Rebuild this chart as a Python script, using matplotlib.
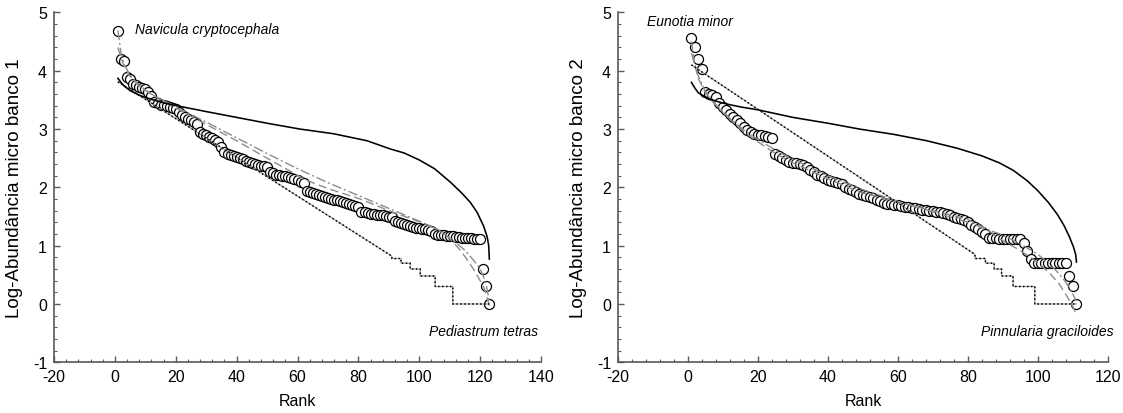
import matplotlib.pyplot as plt
from matplotlib.ticker import MultipleLocator

plt.rcParams["font.family"] = ["Liberation Sans", "DejaVu Sans"]
plt.rcParams["axes.unicode_minus"] = False

# banco 1: observed log-abundance by rank
abund1 = [4.69, 4.21, 4.16, 3.89, 3.86, 3.78, 3.75, 3.73, 3.71, 3.69,
          3.63, 3.57, 3.46, 3.44, 3.42, 3.41, 3.40, 3.38, 3.36, 3.34,
          3.29, 3.24, 3.21, 3.18, 3.15, 3.12, 3.09, 2.95, 2.92, 2.89,
          2.86, 2.84, 2.81, 2.78, 2.70, 2.61, 2.58, 2.56, 2.54, 2.52,
          2.50, 2.48, 2.46, 2.44, 2.42, 2.40, 2.38, 2.37, 2.36, 2.35,
          2.26, 2.24, 2.22, 2.21, 2.20, 2.19, 2.18, 2.16, 2.14, 2.12,
          2.10, 2.07, 1.94, 1.92, 1.90, 1.89, 1.87, 1.85, 1.84, 1.82,
          1.80, 1.79, 1.78, 1.76, 1.75, 1.73, 1.72, 1.70, 1.68, 1.66,
          1.58, 1.57, 1.56, 1.55, 1.54, 1.53, 1.53, 1.52, 1.51, 1.50,
          1.49, 1.42, 1.40, 1.39, 1.37, 1.36, 1.34, 1.32, 1.31, 1.30,
          1.29, 1.28, 1.27, 1.25, 1.20, 1.19, 1.18, 1.18, 1.17, 1.16,
          1.16, 1.15, 1.15, 1.14, 1.14, 1.13, 1.13, 1.12, 1.11, 1.11,
          0.60, 0.30, 0.00]
rank1 = list(range(1, len(abund1) + 1))

# banco 1: fitted models
stick1_rank = [1, 2, 3, 5, 8, 12, 16, 20.3, 30, 40, 50, 60.8, 71.8, 82.8, 90.4,
               95, 100, 105, 110.2, 114, 116.8, 119, 121.1, 122.3, 122.8, 123]
stick1_val = [3.87, 3.80, 3.74, 3.66, 3.58, 3.51, 3.45, 3.40, 3.30, 3.20, 3.10,
              3.00, 2.92, 2.80, 2.66, 2.59, 2.47, 2.32, 2.09, 1.90, 1.74, 1.57,
              1.34, 1.15, 1.00, 0.77]
geo1_rank = [1, 91, 91, 94, 94, 97, 97, 100.3, 100.3, 105.2, 105.2, 111, 111, 123]
geo1_val = [3.81, 0.82, 0.78, 0.78, 0.70, 0.70, 0.60, 0.60, 0.48, 0.48, 0.30, 0.30, 0.00, 0.00]
lnorm1_rank = [1, 2, 3, 5, 8, 12, 20, 30, 40, 50, 63, 70, 80.6, 91.5, 100, 105.8,
               110, 113, 115.6, 118, 120, 121.5, 123]
lnorm1_val = [4.40, 4.22, 4.08, 3.90, 3.74, 3.59, 3.36, 3.08, 2.80, 2.50, 2.12, 1.98,
              1.80, 1.57, 1.41, 1.29, 1.12, 0.95, 0.77, 0.58, 0.40, 0.25, -0.03]
lser1_rank = [1, 2, 3, 5, 8, 12, 20, 30, 40, 50, 60, 70, 80, 90, 100, 105, 110,
              115, 118, 120, 121, 122, 123]
lser1_val = [4.69, 4.30, 4.12, 3.92, 3.75, 3.60, 3.38, 3.12, 2.85, 2.58, 2.32, 2.08,
             1.86, 1.64, 1.42, 1.30, 1.14, 0.92, 0.74, 0.60, 0.48, 0.32, 0.05]

# banco 2: observed log-abundance by rank
abund2 = [4.57, 4.40, 4.20, 4.03, 3.63, 3.60, 3.58, 3.55, 3.45, 3.38,
          3.32, 3.26, 3.21, 3.15, 3.10, 3.04, 2.98, 2.95, 2.92, 2.90,
          2.89, 2.88, 2.86, 2.84, 2.57, 2.54, 2.50, 2.47, 2.44, 2.42,
          2.41, 2.40, 2.38, 2.35, 2.29, 2.26, 2.22, 2.19, 2.16, 2.13,
          2.11, 2.09, 2.07, 2.05, 2.01, 1.98, 1.95, 1.92, 1.89, 1.87,
          1.85, 1.83, 1.81, 1.79, 1.76, 1.74, 1.72, 1.71, 1.70, 1.69,
          1.68, 1.67, 1.66, 1.65, 1.64, 1.63, 1.62, 1.61, 1.60, 1.59,
          1.58, 1.57, 1.56, 1.54, 1.52, 1.50, 1.48, 1.46, 1.44, 1.40,
          1.36, 1.32, 1.28, 1.24, 1.20, 1.14, 1.13, 1.13, 1.12, 1.12,
          1.12, 1.11, 1.11, 1.11, 1.11, 1.05, 0.91, 0.77, 0.70, 0.70,
          0.70, 0.70, 0.70, 0.70, 0.70, 0.70, 0.70, 0.70, 0.48, 0.30,
          0.00]
rank2 = list(range(1, len(abund2) + 1))

# banco 2: fitted models
stick2_rank = [1, 2, 3, 4.4, 6, 8, 11, 15, 20, 30, 40, 49, 58.7, 68.2, 77, 84,
               89, 93, 97, 100, 103, 105.5, 107.5, 109, 110.2, 110.8, 111]
stick2_val = [3.80, 3.70, 3.62, 3.57, 3.52, 3.48, 3.43, 3.38, 3.33, 3.20, 3.10, 3.00,
              2.91, 2.80, 2.67, 2.54, 2.42, 2.29, 2.11, 1.94, 1.74, 1.54, 1.34, 1.15,
              0.97, 0.84, 0.72]
geo2_rank = [1, 82, 82, 85, 85, 87.5, 87.5, 89.6, 89.6, 92.9, 92.9, 99.1, 99.1, 111]
geo2_val = [4.10, 0.85, 0.78, 0.78, 0.70, 0.70, 0.60, 0.60, 0.48, 0.48, 0.30, 0.30, 0.00, 0.00]
lnorm2_rank = [1, 2, 3, 5, 8, 12, 16, 20, 25, 30, 40, 49, 60.6, 70, 79.6, 85, 89, 94,
               98.7, 103, 106, 108.2, 110, 111.1]
lnorm2_val = [4.50, 4.09, 3.86, 3.62, 3.40, 3.17, 2.95, 2.78, 2.58, 2.42, 2.15, 1.92,
              1.74, 1.60, 1.46, 1.30, 1.12, 0.95, 0.77, 0.55, 0.35, 0.14, -0.05, -0.20]
lser2_rank = [1, 3, 5, 8, 12, 16, 20, 25, 30, 40, 50, 60, 70, 80, 90, 95, 100, 104,
              107, 109, 111]
lser2_val = [4.30, 3.90, 3.65, 3.42, 3.18, 2.98, 2.82, 2.64, 2.48, 2.20, 1.96, 1.76,
             1.58, 1.40, 1.18, 1.03, 0.85, 0.65, 0.45, 0.28, 0.05]


def draw_panel(ax, rank, abund, stick, geo, lnorm, lser, xmax, ylabel, top_name, top_xy,
               bottom_name, bottom_x):
    ax.plot(rank, abund, "o", ms=7.2, mfc="white", mec="black", mew=0.9, zorder=2)
    ax.plot(lnorm[0], lnorm[1], color="0.55", lw=1.0, ls=(0, (6, 3)), zorder=3)
    ax.plot(lser[0], lser[1], color="0.55", lw=1.0, ls=(0, (7, 2, 1.5, 2)), zorder=3)
    ax.plot(geo[0], geo[1], color="0.6", lw=0.8, zorder=3)
    ax.plot(geo[0], geo[1], color="black", lw=1.1, ls=(0, (1, 1.6)), zorder=3)
    ax.plot(stick[0], stick[1], color="black", lw=1.15, zorder=4)

    ax.text(top_xy[0], top_xy[1], top_name, style="italic", fontsize=10,
            va="center", ha="left")
    ax.text(bottom_x, -0.46, bottom_name, style="italic", fontsize=10, va="center",
            ha="right", clip_on=False)

    ax.set_xlim(-20, xmax)
    ax.set_ylim(-1, 5)
    ax.xaxis.set_major_locator(MultipleLocator(20))
    ax.xaxis.set_minor_locator(MultipleLocator(4))
    ax.yaxis.set_major_locator(MultipleLocator(1))
    ax.yaxis.set_minor_locator(MultipleLocator(0.2))
    for side in ("top", "right"):
        ax.spines[side].set_visible(False)
    for side in ("left", "bottom"):
        ax.spines[side].set_color("0.35")
        ax.spines[side].set_linewidth(1.2)
    ax.tick_params(which="both", direction="in", color="0.35", labelsize=11.5)
    ax.tick_params(which="major", length=4, width=1.0, pad=5)
    ax.tick_params(which="minor", length=2, width=0.8)
    ax.set_xlabel("Rank", fontsize=11.5, labelpad=6)
    ax.set_ylabel(ylabel, fontsize=13.5, labelpad=7)


fig = plt.figure(figsize=(11.23, 4.14), dpi=100)
ax1 = fig.add_axes([0.0481, 0.1225, 0.4337, 0.845])
ax2 = fig.add_axes([0.5503, 0.1225, 0.4363, 0.845])

draw_panel(ax1, rank1, abund1, (stick1_rank, stick1_val), (geo1_rank, geo1_val),
           (lnorm1_rank, lnorm1_val), (lser1_rank, lser1_val), 140,
           "Log-Abundância micro banco 1", "Navicula cryptocephala", (6.6, 4.72),
           "Pediastrum tetras", 139)
draw_panel(ax2, rank2, abund2, (stick2_rank, stick2_val), (geo2_rank, geo2_val),
           (lnorm2_rank, lnorm2_val), (lser2_rank, lser2_val), 120,
           "Log-Abundância micro banco 2", "Eunotia minor", (-11.7, 4.86),
           "Pinnularia graciloides", 121.5)

fig.savefig("out.png", dpi=100)
